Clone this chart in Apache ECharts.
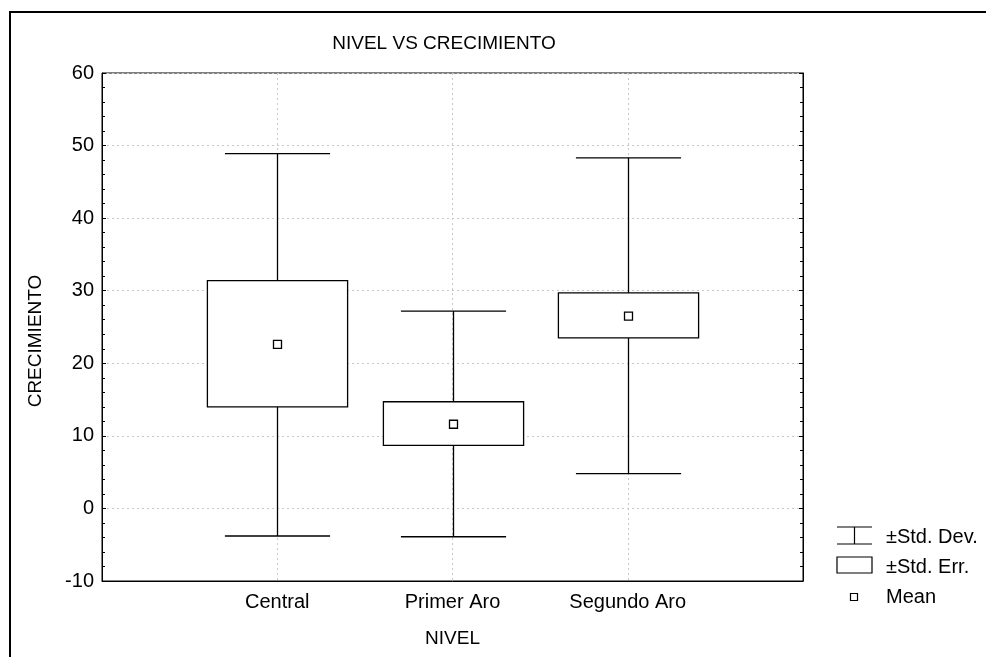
<!DOCTYPE html>
<html><head><meta charset="utf-8">
<script src="https://cdn.jsdelivr.net/npm/echarts@6/dist/echarts.min.js"></script>
<style>html,body{margin:0;padding:0;background:#fff}#c{width:986px;height:657px}</style>
</head><body><div id="c"></div>
<script>
const categories = ['Central', 'Primer Aro', 'Segundo Aro'];
const means  = [22.6, 11.6, 26.5];
const seLow  = [14.0, 8.7, 23.5];
const seHigh = [31.4, 14.7, 29.7];
const sdLow  = [-3.8, -3.9, 4.8];
const sdHigh = [48.9, 27.2, 48.3];
const yTicks = [-10, 0, 10, 20, 30, 40, 50, 60];
const legendLabels = ['±Std. Dev.', '±Std. Err.', 'Mean'];

const FONT = 'Liberation Sans, Arial, sans-serif';
const data = categories.map((c, i) => [i + 1, means[i], seLow[i], seHigh[i], sdLow[i], sdHigh[i]]);

const chart = echarts.init(document.getElementById('c'), null, {renderer: 'canvas'});
chart.setOption({
  animation: false,
  backgroundColor: '#fff',
  title: {
    text: 'NIVEL VS CRECIMIENTO', left: 439, top: 29, textAlign: 'center',
    textStyle: {fontFamily: FONT, fontSize: 19, fontWeight: 'normal', color: '#000'}
  },
  grid: {left: 102, right: 183, top: 73, bottom: 76, show: true, borderColor: '#000', borderWidth: 1, backgroundColor: 'transparent'},
  xAxis: {
    type: 'value', min: 0, max: 4, interval: 1,
    name: 'NIVEL', nameLocation: 'middle', nameGap: 48,
    nameTextStyle: {fontFamily: FONT, fontSize: 19, color: '#000'},
    axisLine: {show: true, onZero: false, lineStyle: {color: '#000', width: 1}},
    axisTick: {show: false},
    axisLabel: {fontFamily: FONT, fontSize: 20, color: '#000', margin: 11,
      formatter: v => categories[v - 1] || ''},
    splitLine: {show: true, lineStyle: {color: '#c8c8c8', type: [2, 3], width: 1}}
  },
  yAxis: [{
    type: 'value', min: yTicks[0], max: yTicks[yTicks.length - 1], interval: 10,
    name: 'CRECIMIENTO', nameLocation: 'middle', nameGap: 57,
    nameTextStyle: {fontFamily: FONT, fontSize: 19, color: '#000', padding: [0, 28, 0, 0]},
    axisLine: {show: true, onZero: false, lineStyle: {color: '#000', width: 1}},
    axisTick: {show: true, inside: true, length: 4, lineStyle: {color: '#000'}},
    minorTick: {show: true, splitNumber: 5, length: 3, lineStyle: {color: '#000'}},
    axisLabel: {fontFamily: FONT, fontSize: 20, color: '#000', margin: 8},
    splitLine: {show: true, lineStyle: {color: '#c8c8c8', type: [2, 3], width: 1}}
  }, {
    type: 'value', position: 'right', min: yTicks[0], max: yTicks[yTicks.length - 1], interval: 10,
    axisLine: {show: true, onZero: false, lineStyle: {color: '#000', width: 1}},
    axisTick: {show: true, inside: true, length: 4, lineStyle: {color: '#000'}},
    minorTick: {show: true, splitNumber: 5, length: 3, lineStyle: {color: '#000'}},
    axisLabel: {show: false}, splitLine: {show: false}
  }],
  series: [{
    type: 'custom',
    data: data,
    renderItem: function (params, api) {
      const x = api.value(0);
      const unit = api.size([1, 0])[0];
      const boxW = unit * 0.8, capW = unit * 0.6;
      const pM = api.coord([x, api.value(1)]);
      const pSeL = api.coord([x, api.value(2)]);
      const pSeH = api.coord([x, api.value(3)]);
      const pSdL = api.coord([x, api.value(4)]);
      const pSdH = api.coord([x, api.value(5)]);
      const cx = Math.round(pM[0]) + 0.5;
      const ls = {stroke: '#000', lineWidth: 1.3, fill: null};
      return {type: 'group', children: [
        {type: 'line', shape: {x1: cx, y1: pSdH[1], x2: cx, y2: pSeH[1]}, style: ls},
        {type: 'line', shape: {x1: cx, y1: pSeL[1], x2: cx, y2: pSdL[1]}, style: ls},
        {type: 'line', shape: {x1: cx - capW / 2, y1: pSdH[1], x2: cx + capW / 2, y2: pSdH[1]}, style: ls},
        {type: 'line', shape: {x1: cx - capW / 2, y1: pSdL[1], x2: cx + capW / 2, y2: pSdL[1]}, style: ls},
        {type: 'rect', shape: {x: cx - boxW / 2, y: pSeH[1], width: boxW, height: pSeL[1] - pSeH[1]},
          style: {stroke: '#000', lineWidth: 1.3, fill: '#fff'}},
        {type: 'rect', shape: {x: cx - 4, y: pM[1] - 4, width: 8, height: 8},
          style: {stroke: '#000', lineWidth: 1.3, fill: '#fff'}}
      ]};
    }
  }],
  graphic: [
    {type: 'rect', shape: {x: 10, y: 12, width: 1000, height: 700}, style: {stroke: '#000', lineWidth: 2, fill: null}, z: 100},
    {type: 'line', shape: {x1: 837, y1: 527, x2: 872, y2: 527}, style: {stroke: '#000', lineWidth: 1.2}},
    {type: 'line', shape: {x1: 837, y1: 544, x2: 872, y2: 544}, style: {stroke: '#000', lineWidth: 1.2}},
    {type: 'line', shape: {x1: 854.5, y1: 527, x2: 854.5, y2: 544}, style: {stroke: '#000', lineWidth: 1.2}},
    {type: 'text', x: 886, y: 537, style: {text: legendLabels[0], font: '20px ' + FONT, fill: '#000', verticalAlign: 'middle'}},
    {type: 'rect', shape: {x: 837, y: 557, width: 35, height: 16}, style: {stroke: '#000', lineWidth: 1.2, fill: '#fff'}},
    {type: 'text', x: 886, y: 567, style: {text: legendLabels[1], font: '20px ' + FONT, fill: '#000', verticalAlign: 'middle'}},
    {type: 'rect', shape: {x: 850.5, y: 593.5, width: 7, height: 7}, style: {stroke: '#000', lineWidth: 1.2, fill: '#fff'}},
    {type: 'text', x: 886, y: 597, style: {text: legendLabels[2], font: '20px ' + FONT, fill: '#000', verticalAlign: 'middle'}}
  ]
});
</script></body></html>
